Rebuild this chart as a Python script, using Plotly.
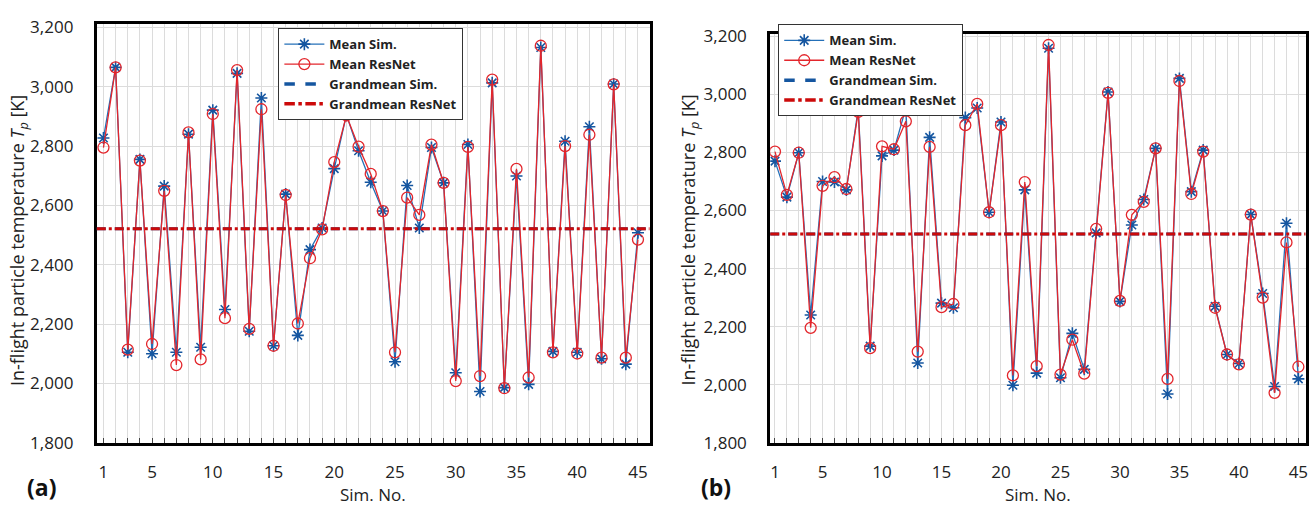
import plotly.graph_objects as go

sim_no = list(range(1, 46))

# Panel (a)
a_mean_sim = [2827, 3065, 2105, 2755, 2100, 2665, 2105, 2840, 2122, 2921, 2249, 3045, 2176, 2962, 2127,
              2638, 2162, 2451, 2524, 2724, 2905, 2784, 2678, 2581, 2073, 2667, 2524, 2795, 2676, 2036,
              2805, 1973, 3013, 1986, 2699, 1997, 3132, 2108, 2816, 2105, 2865, 2083, 3009, 2065, 2508]
a_mean_resnet = [2795, 3065, 2114, 2751, 2133, 2649, 2062, 2846, 2081, 2908, 2220, 3056, 2184, 2924, 2127,
                 2635, 2202, 2422, 2519, 2746, 2903, 2798, 2706, 2581, 2105, 2626, 2568, 2805, 2676, 2008,
                 2797, 2025, 3024, 1984, 2723, 2020, 3138, 2105, 2800, 2101, 2838, 2087, 3008, 2087, 2485]
a_grand_sim = 2521
a_grand_resnet = 2521

# Panel (b)
b_mean_sim = [2770, 2646, 2799, 2240, 2700, 2698, 2671, 2951, 2133, 2788, 2808, 2953, 2075, 2852, 2281,
              2265, 2920, 2953, 2594, 2905, 1998, 2671, 2040, 3159, 2024, 2177, 2053, 2523, 3008, 2287,
              2550, 2638, 2814, 1968, 3055, 2665, 2808, 2270, 2104, 2073, 2586, 2314, 1994, 2556, 2020]
b_mean_resnet = [2803, 2654, 2799, 2196, 2685, 2715, 2674, 2940, 2126, 2821, 2811, 2907, 2114, 2819, 2267,
                 2278, 2894, 2967, 2594, 2894, 2032, 2698, 2064, 3170, 2035, 2155, 2038, 2537, 3005, 2289,
                 2585, 2630, 2814, 2020, 3046, 2657, 2803, 2265, 2104, 2070, 2586, 2300, 1972, 2490, 2062]
b_grand_sim = 2519
b_grand_resnet = 2519

x_tick_vals = [1, 5, 10, 15, 20, 25, 30, 35, 40, 45]
y_tick_vals = [1800, 2000, 2200, 2400, 2600, 2800, 3000, 3200]

BLUE = "#2470b8"
BLUE_DARK = "#1556a0"
RED = "#e3262c"
RED_DARK = "#cc0a0a"
FONT = "Open Sans"
W, H = 1311, 507

fig = go.Figure()

panels = [
    dict(xa="x", ya="y", leg="legend", sim=a_mean_sim, res=a_mean_resnet, gs=a_grand_sim, gr=a_grand_resnet),
    dict(xa="x2", ya="y2", leg="legend2", sim=b_mean_sim, res=b_mean_resnet, gs=b_grand_sim, gr=b_grand_resnet),
]

for p in panels:
    fig.add_trace(go.Scatter(
        x=sim_no, y=p["sim"], name="Mean Sim.", mode="lines+markers",
        line=dict(color=BLUE, width=1.3),
        marker=dict(symbol="asterisk-open", size=10, color=BLUE_DARK, line=dict(color=BLUE_DARK, width=1.6)),
        xaxis=p["xa"], yaxis=p["ya"], legend=p["leg"]))
    fig.add_trace(go.Scatter(
        x=sim_no, y=p["res"], name="Mean ResNet", mode="lines+markers",
        line=dict(color=RED, width=1.3),
        marker=dict(symbol="circle-open", size=11, color=RED, line=dict(color=RED, width=1.3)),
        xaxis=p["xa"], yaxis=p["ya"], legend=p["leg"]))
    # legend entries for the grand-mean lines (lines themselves drawn as shapes)
    fig.add_trace(go.Scatter(
        x=[None], y=[None], name="Grandmean Sim.", mode="lines",
        line=dict(color=BLUE_DARK, width=3.5, dash="dash"),
        xaxis=p["xa"], yaxis=p["ya"], legend=p["leg"]))
    fig.add_trace(go.Scatter(
        x=[None], y=[None], name="Grandmean ResNet", mode="lines",
        line=dict(color=RED_DARK, width=3.5, dash="dashdot"),
        xaxis=p["xa"], yaxis=p["ya"], legend=p["leg"]))
    xref = p["xa"] + " domain"
    fig.add_shape(type="line", xref=xref, yref=p["ya"], x0=0, x1=1, y0=p["gs"], y1=p["gs"],
                  line=dict(color=BLUE_DARK, width=3, dash="dash"), layer="above")
    fig.add_shape(type="line", xref=xref, yref=p["ya"], x0=0, x1=1, y0=p["gr"], y1=p["gr"],
                  line=dict(color=RED_DARK, width=3, dash="dashdot"), layer="above")

GRID = "#dcdcdc"
tickfont = dict(family=FONT, size=17, color="#222")


def xaxis(domain, rng, anchor):
    return dict(domain=domain, range=rng, anchor=anchor, tickvals=x_tick_vals,
                showgrid=True, gridcolor=GRID, gridwidth=1,
                ticks="inside", ticklen=5, tickcolor="#444",
                minor=dict(dtick=1, tick0=0, showgrid=True, gridcolor=GRID, gridwidth=1,
                           ticks="inside", ticklen=5, tickcolor="#444"),
                showline=True, linecolor="black", linewidth=3, mirror=True,
                zeroline=False, tickfont=tickfont, ticklabelstandoff=12)


def yaxis(domain, rng, anchor):
    return dict(domain=domain, range=rng, anchor=anchor, tickvals=y_tick_vals, tickformat=",",
                showgrid=True, gridcolor=GRID, gridwidth=1, ticks="",
                showline=True, linecolor="black", linewidth=3, mirror=True,
                zeroline=False, tickfont=tickfont, ticklabelstandoff=17)


fig.update_layout(
    width=W, height=H,
    margin=dict(l=0, r=0, t=0, b=0),
    paper_bgcolor="white", plot_bgcolor="white",
    showlegend=True,
    xaxis=xaxis([97 / W, 651 / W], [0.45, 45.95], "y"),
    yaxis=yaxis([(H - 451.5) / H, (H - 15) / H], [1800, 3210], "x"),
    xaxis2=xaxis([772 / W, 1308.5 / W], [0.6, 45.6], "y2"),
    yaxis2=yaxis([(H - 451.5) / H, (H - 25) / H], [1800, 3208], "x2"),
    legend=dict(x=279 / W, y=(H - 19) / H, xanchor="left", yanchor="top",
                bgcolor="white", bordercolor="#333", borderwidth=1,
                font=dict(family=FONT, size=13, color="#222", weight="bold"),
                tracegroupgap=0, itemwidth=40),
    legend2=dict(x=780 / W, y=(H - 15) / H, xanchor="left", yanchor="top",
                 bgcolor="white", bordercolor="#333", borderwidth=1,
                 font=dict(family=FONT, size=13, color="#222", weight="bold"),
                 tracegroupgap=0, itemwidth=40),
)

title_font = dict(family=FONT, size=18, color="#222")
ytitle = "In-flight particle temperature <i>T<sub>p</sub></i> [K]"
fig.add_annotation(text=ytitle, x=18 / W, y=(H - 240) / H, xref="paper", yref="paper",
                   textangle=-90, showarrow=False, font=title_font, xanchor="center", yanchor="middle")
fig.add_annotation(text=ytitle, x=691 / W, y=(H - 240) / H, xref="paper", yref="paper",
                   textangle=-90, showarrow=False, font=title_font, xanchor="center", yanchor="middle")
fig.add_annotation(text="Sim. No.", x=374 / W, y=0, xref="paper", yref="paper",
                   showarrow=False, font=dict(family=FONT, size=17, color="#222"),
                   xanchor="center", yanchor="bottom", yshift=-12)
fig.add_annotation(text="Sim. No.", x=1040 / W, y=0, xref="paper", yref="paper",
                   showarrow=False, font=dict(family=FONT, size=17, color="#222"),
                   xanchor="center", yanchor="bottom", yshift=-12)
fig.add_annotation(text="<b>(a)</b>", x=42 / W, y=0, xref="paper", yref="paper",
                   showarrow=False, font=dict(family=FONT, size=23, color="#111"),
                   xanchor="center", yanchor="bottom", yshift=-9)
fig.add_annotation(text="<b>(b)</b>", x=718 / W, y=0, xref="paper", yref="paper",
                   showarrow=False, font=dict(family=FONT, size=23, color="#111"),
                   xanchor="center", yanchor="bottom", yshift=-9)

fig.write_html("out.html", config={"displayModeBar": False},
               post_script="document.body.style.margin='0';")
